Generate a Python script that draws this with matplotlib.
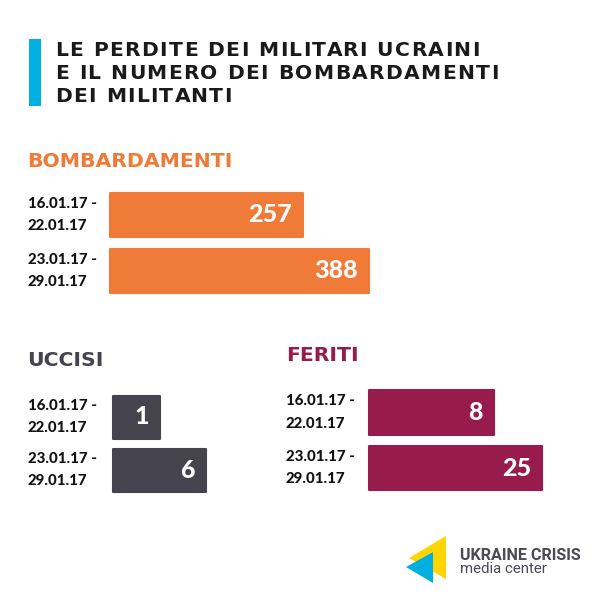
import matplotlib
matplotlib.use("Agg")
import matplotlib.pyplot as plt
from matplotlib.transforms import blended_transform_factory, offset_copy
from matplotlib.patches import Polygon, Rectangle

# ---------------- data ----------------
periods = ["16.01.17 -\n22.01.17", "23.01.17 -\n29.01.17"]
bombardamenti = [257, 388]
uccisi = [1, 6]
feriti = [8, 25]

title_lines = ["LE PERDITE DEI MILITARI UCRAINI",
               "E IL NUMERO DEI BOMBARDAMENTI",
               "DEI MILITANTI"]

ORANGE = "#F07A37"
DARK = "#45434D"
CRIMSON = "#971B4C"
CYAN = "#00B0E0"
YELLOW = "#FFD400"

TITLE_FONT = "DejaVu Sans"
NUM_FONT = "Lato"

fig = plt.figure(figsize=(6, 6), dpi=100)
fig.patch.set_facecolor("white")

# overlay axes in pixel coordinates for text / decoration
bg = fig.add_axes([0, 0, 1, 1])
bg.set_xlim(0, 600)
bg.set_ylim(600, 0)
bg.axis("off")
renderer = fig.canvas.get_renderer()


def text_width(s, **kw):
    t = bg.text(0, 0, s, **kw)
    w = t.get_window_extent(renderer).width
    t.remove()
    return w


def tracked_text(x, y, s, tracking, **kw):
    ref = text_width("|", **kw)
    for i, ch in enumerate(s):
        if ch == " ":
            continue
        adv = text_width(s[:i] + "|", **kw) - ref if i > 0 else 0.0
        bg.text(x + adv + i * tracking, y, ch, va="baseline", ha="left", **kw)


# title
bg.add_patch(Rectangle((29, 39), 12, 67, color=CYAN, lw=0))
title_kw = dict(fontsize=14.6, fontweight="bold", family=TITLE_FONT,
                color="#1A1A1A")
for i, line in enumerate(title_lines):
    tracked_text(55, 55.5 + i * 23.5, line, 1.4, **title_kw)

# section headers
bg.text(27, 167, "BOMBARDAMENTI", fontsize=14.7, fontweight="bold",
        family=TITLE_FONT, color=ORANGE, va="baseline")
bg.text(27, 366, "UCCISI", fontsize=14.7, fontweight="bold",
        family=TITLE_FONT, color=DARK, va="baseline")
bg.text(286, 361, "FERITI", fontsize=14.7, fontweight="bold",
        family=TITLE_FONT, color=CRIMSON, va="baseline")


def px_axes(x0, x1, ytop, ybot):
    return fig.add_axes([x0 / 600, 1 - ybot / 600, (x1 - x0) / 600,
                         (ybot - ytop) / 600])


def panel(values, color, x_left, x_right, y_c0, spacing, bar_px, floor,
          label_x):
    ax = px_axes(x_left, x_right, y_c0 - spacing / 2, y_c0 + 1.5 * spacing)
    ax.set_xscale("log")
    ax.set_xlim(floor, max(values))
    ax.set_ylim(len(values) - 0.5, -0.5)
    ax.axis("off")
    ypos = list(range(len(values)))
    ax.barh(ypos, [v - floor for v in values], left=floor,
            height=bar_px / spacing, color=color, edgecolor=color,
            linewidth=1.5, joinstyle="round", clip_on=False)
    tr = offset_copy(ax.transData, fig=fig, x=-11, y=0, units="dots")
    for y, v in zip(ypos, values):
        ax.text(v, y, str(v), transform=tr, ha="right", va="center",
                fontsize=18, fontweight="black", family=NUM_FONT,
                color="white")
    btr = blended_transform_factory(bg.transData, ax.transData)
    for y, lab in zip(ypos, periods):
        ax.text(label_x, y, lab, transform=btr, ha="left", va="center",
                fontsize=10.8, fontweight="black", family=NUM_FONT,
                color="#111111", linespacing=1.75)
    return ax


panel(bombardamenti, ORANGE, 110, 369, 215, 56, 44, 77, 28)
panel(uccisi, DARK, 113, 206, 417, 53, 43, 0.161, 28)
panel(feriti, CRIMSON, 369, 542, 412.5, 55.5, 44.5, 0.42, 286)

# logo
bg.add_patch(Polygon([(409, 558), (446, 536), (446, 579)], closed=True,
                     color=YELLOW, lw=0))
bg.add_patch(Polygon([(406, 567), (433, 552), (433, 583)], closed=True,
                     color=CYAN, lw=0))
bg.text(460, 560, "UKRAINE CRISIS", fontsize=11.6, fontweight="bold",
        family="Roboto", color="#4A4A55", va="baseline")
bg.text(460, 573, "media center", fontsize=10.8, family="Roboto",
        color="#4A4A55", va="baseline")

fig.savefig("out.png", dpi=100, facecolor="white")
